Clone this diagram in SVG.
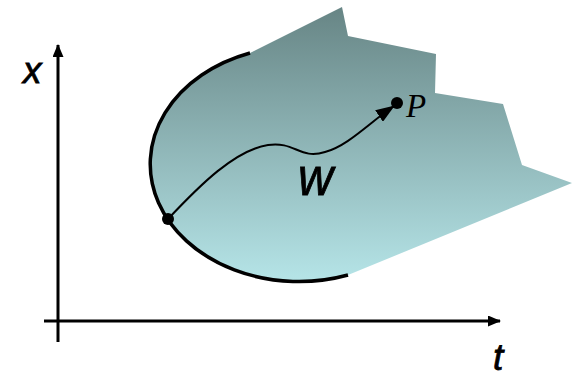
<svg xmlns="http://www.w3.org/2000/svg" width="572" height="377" viewBox="0 0 572 377">
<style>
.axis{stroke:#000;stroke-width:3;fill:none}
.lbl{font-family:"Liberation Sans",Arial,sans-serif;font-style:italic;fill:#000;stroke:#000;stroke-width:0.8}
.dot{fill:#000}
</style>
<defs>
<linearGradient id="g" x1="0" y1="7" x2="0" y2="280" gradientUnits="userSpaceOnUse">
<stop offset="0" stop-color="#678585"/>
<stop offset="1" stop-color="#b5e4e7"/>
</linearGradient>
<marker id="ah" markerUnits="userSpaceOnUse" markerWidth="13" markerHeight="11" viewBox="0 0 13 11" refX="12" refY="5.5" orient="auto">
<path d="M0,0 L13,5.5 L0,11 z" fill="#000"/>
</marker>
<marker id="ah2" markerUnits="userSpaceOnUse" markerWidth="19" markerHeight="14" viewBox="0 0 19 14" refX="18" refY="7" orient="auto">
<path d="M0,0 L19,7 L0,14 z" fill="#000"/>
</marker>
</defs>
<g id="region">
<path d="M250,53 L342,7 L348,36 L436,54 L435,93 L503,104 L522,165 L572,183 L348,275 A143,113 0 0 1 250,53 z" fill="url(#g)"/>
<path d="M250,53 A143,113 0 0 0 348,275" fill="none" stroke="#000" stroke-width="3.5"/>
</g>
<g id="axes">
<line class="axis" x1="58" y1="342" x2="58" y2="45" marker-end="url(#ah)"/>
<line class="axis" x1="44" y1="321" x2="500" y2="321" marker-end="url(#ah)"/>
<text class="lbl" x="23" y="83" font-size="37">x</text>
<text class="lbl" x="493" y="370" font-size="37">t</text>
</g>
<g id="connectors">
<path d="M168,219 C200,185 235,150 268,145 C295,141 300,160 325,152 C348,146 370,122 394,106" fill="none" stroke="#000" stroke-width="2" marker-end="url(#ah2)"/>
</g>
<g id="start"><circle class="dot" cx="168" cy="219" r="6"/></g>
<g id="P">
<circle class="dot" cx="397" cy="103" r="6"/>
<text x="406" y="117" font-family="'Liberation Serif','Times New Roman',serif" font-style="italic" font-size="33">P</text>
</g>
<g id="W"><text class="lbl" x="0" y="0" font-size="54" transform="translate(298,195) scale(0.9,1)">w</text></g>
</svg>
